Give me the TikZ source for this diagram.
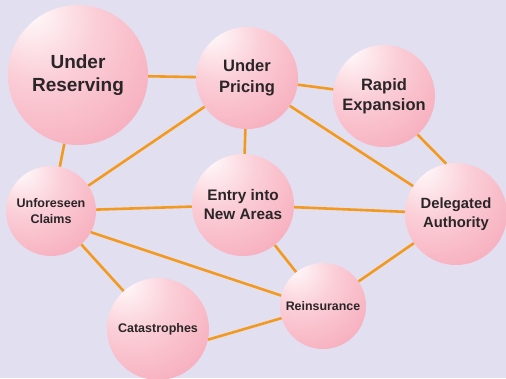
\documentclass[tikz,border=0pt]{standalone}
\usepackage{fontspec}
\setmainfont{Liberation Sans}
\usepackage{xcolor}
\usepackage{tikz}
\definecolor{bglav}{HTML}{E2DFF0}
\definecolor{linkorange}{HTML}{F39A1E}
\definecolor{ballhi}{HTML}{FEF3F5}
\definecolor{balllight}{HTML}{FBCFD8}
\definecolor{ballmid}{HTML}{F7AFBE}
\definecolor{balledge}{HTML}{F0839C}
\definecolor{labeldark}{HTML}{2A2526}
\pgfdeclareradialshading{pinkball}{\pgfpoint{-18bp}{24bp}}{%
  color(0bp)=(ballhi); color(4bp)=(ballhi); color(20bp)=(balllight);
  color(42bp)=(ballmid); color(72bp)=(balledge); color(90bp)=(balledge)}

\begin{document}
\begin{tikzpicture}[
    x=1pt, y=-1pt,
    ball/.style={circle, shading=pinkball, inner sep=0pt, align=center,
      text=labeldark},
    link/.style={draw=linkorange, line width=2.6pt},
  ]
  % Background
  \fill[bglav] (0,0) rectangle (506,378);
  \useasboundingbox (0,0) rectangle (506,378);

  % Risk balls
  \node[ball, minimum size=140pt, font=\bfseries\fontsize{19}{23}\selectfont]
    (reserving) at (78,75) {Under\\Reserving};
  \node[ball, minimum size=102pt, font=\bfseries\fontsize{16.5}{20.5}\selectfont]
    (pricing) at (247,78) {Under\\Pricing};
  \node[ball, minimum size=102pt, font=\bfseries\fontsize{16.5}{20.5}\selectfont]
    (rapid) at (384,96) {Rapid\\Expansion};
  \node[ball, minimum size=90pt, font=\bfseries\fontsize{12.5}{15.5}\selectfont]
    (unforeseen) at (51,211) {Unforeseen\\Claims};
  \node[ball, minimum size=102pt, font=\bfseries\fontsize{15.3}{19}\selectfont]
    (entry) at (243,205) {Entry into\\New Areas};
  \node[ball, minimum size=102pt, font=\bfseries\fontsize{14.8}{18.5}\selectfont]
    (delegated) at (456,214) {Delegated\\Authority};
  \node[ball, minimum size=86pt, font=\bfseries\fontsize{12.4}{15}\selectfont]
    (reinsurance) at (323,306) {Reinsurance};
  \node[ball, minimum size=102pt, font=\bfseries\fontsize{12.5}{15}\selectfont]
    (catastrophes) at (158,329) {Catastrophes};

  % Links
  \draw[link] (reserving) -- (pricing);
  \draw[link] (reserving) -- (unforeseen);
  \draw[link] (pricing) -- (rapid);
  \draw[link] (pricing) -- (unforeseen);
  \draw[link] (pricing) -- (entry);
  \draw[link] (pricing) -- (delegated);
  \draw[link] (rapid.-49) -- (delegated.101);
  \draw[link] (unforeseen) -- (entry);
  \draw[link] (unforeseen.-28) -- (reinsurance.166);
  \draw[link] (unforeseen) -- (catastrophes);
  \draw[link] (entry) -- (delegated);
  \draw[link] (entry) -- (reinsurance);
  \draw[link] (reinsurance) -- (delegated);
  \draw[link] (catastrophes.-12) -- (reinsurance);
\end{tikzpicture}
\end{document}
